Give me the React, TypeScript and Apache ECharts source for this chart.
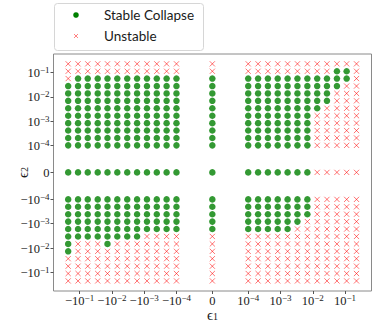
import React, { useEffect, useRef } from "react";
import * as echarts from "echarts";

// Grid values of epsilon_1 (left to right) and epsilon_2 (top to bottom)
const eps1Values = [
  -0.226, -0.112, -0.056, -0.0275, -0.0137, -0.0068, -0.00335, -0.00166, -0.00082, -0.000407, -0.000202, -0.0001,
  0,
  0.0001, 0.000202, 0.000407, 0.00082, 0.00166, 0.00335, 0.0068, 0.0137, 0.0275, 0.056, 0.112, 0.226,
];
const eps2Values = [
  0.226, 0.112, 0.056, 0.0275, 0.0137, 0.0068, 0.00335, 0.00166, 0.00082, 0.000407, 0.000202, 0.0001,
  0,
  -0.0001, -0.000202, -0.000407, -0.00082, -0.00166, -0.00335, -0.0068, -0.0137, -0.0275, -0.056, -0.112, -0.226,
];
// o = stable collapse, x = unstable ; rows follow eps2Values, columns follow eps1Values
const stabilityRows = [
  "xxxxxxxxxxxx" + "x" + "xxxxxxxxxxxx",
  "xxxxxxxxxxxx" + "x" + "xxxxxxxxxoox",
  "xooooooooooo" + "o" + "ooooooooooox",
  "oooooooooooo" + "o" + "ooooooooooxx",
  "oooooooooooo" + "o" + "oooooooooxxx",
  "oooooooooooo" + "o" + "oooooooooxxx",
  "oooooooooooo" + "o" + "ooooooooxxxx",
  "oooooooooooo" + "o" + "oooooooxxxxx",
  "oooooooooooo" + "o" + "oooooooxxxxx",
  "oooooooooooo" + "o" + "oooooooxxxxx",
  "oooooooooooo" + "o" + "oooooooxxxxx",
  "oooooooooooo" + "o" + "oooooooxxxxx",
  "oooooooooooo" + "o" + "oooooooxxxxx",
  "oooooooooooo" + "o" + "oooooooxxxxx",
  "oooooooooooo" + "o" + "oooooooxxxxx",
  "oooooooooooo" + "o" + "oooooooxxxxx",
  "oooooooooooo" + "o" + "ooooooxxxxxx",
  "oooooooooooo" + "o" + "oooooxxxxxxx",
  "ooooooooxxxx" + "x" + "xxxxxxxxxxxx",
  "oxxxoxxxxxxx" + "x" + "xxxxxxxxxxxx",
  "oxxxxxxxxxxx" + "x" + "xxxxxxxxxxxx",
  "xxxxxxxxxxxx" + "x" + "xxxxxxxxxxxx",
  "xxxxxxxxxxxx" + "x" + "xxxxxxxxxxxx",
  "xxxxxxxxxxxx" + "x" + "xxxxxxxxxxxx",
  "xxxxxxxxxxxx" + "x" + "xxxxxxxxxxxx",
];
const tickValues = [-0.1, -0.01, -0.001, -0.0001, 0, 0.0001, 0.001, 0.01, 0.1];
const seriesNames = ["Stable Collapse", "Unstable"];

// symlog transform (linthresh 1e-4, linscale 1, base 10 as in matplotlib)
const LINTHRESH = 1e-4;
const LINSCALE = 1 / (1 - 1 / 10);
const symlog = (v: number) => {
  const a = Math.abs(v);
  if (a <= LINTHRESH) return (v / LINTHRESH) * LINSCALE;
  return Math.sign(v) * (LINSCALE + Math.log10(a / LINTHRESH));
};
const symlogInv = (t: number) => {
  const a = Math.abs(t);
  if (a <= LINSCALE) return (t / LINSCALE) * LINTHRESH;
  return Math.sign(t) * LINTHRESH * Math.pow(10, a - LINSCALE);
};

const SERIF = "'Liberation Serif', 'DejaVu Serif', serif";
const SANS = "Lato, 'Open Sans', sans-serif";
const RED = "rgba(255,0,0,0.55)";
const GREEN = "#008000";
const INK = "#1a1a1a";

const tickLabel = (t: number) => {
  const v = symlogInv(t);
  if (Math.abs(v) < 1e-9) return "{n|0}";
  const e = Math.round(Math.log10(Math.abs(v)));
  return `{n|${v < 0 ? "\u2212" : ""}10}{s|\u2212${-e}}`;
};
const labelRich = {
  n: { fontSize: 12.5, fontFamily: SERIF, color: INK, lineHeight: 14, verticalAlign: "bottom" },
  s: { fontSize: 9, fontFamily: SERIF, color: INK, lineHeight: 9, verticalAlign: "top" },
};
const nameRich = {
  e: { fontSize: 15, fontFamily: SERIF, color: INK, lineHeight: 14, verticalAlign: "middle" },
  s: { fontSize: 10, fontFamily: SERIF, color: INK, lineHeight: 10, verticalAlign: "bottom" },
};

const crossItem = (params: any, api: any) => {
  const p = api.coord([api.value(0), api.value(1)]);
  const h = 2.6;
  return {
    type: "group",
    children: [
      { type: "line", shape: { x1: p[0] - h, y1: p[1] - h, x2: p[0] + h, y2: p[1] + h }, style: { stroke: RED, lineWidth: 1 } },
      { type: "line", shape: { x1: p[0] - h, y1: p[1] + h, x2: p[0] + h, y2: p[1] - h }, style: { stroke: RED, lineWidth: 1 } },
    ],
  };
};

export default function App() {
  const ref = useRef<HTMLDivElement>(null);
  useEffect(() => {
    if (!ref.current) return;
    const chart = echarts.init(ref.current, undefined, { renderer: "svg" });
    const stable: number[][] = [];
    const unstable: number[][] = [];
    stabilityRows.forEach((row, i) => {
      row.split("").forEach((c, j) => {
        const p = [symlog(eps1Values[j]), symlog(eps2Values[i])];
        (c === "o" ? stable : unstable).push(p);
      });
    });
    const ticks = tickValues.map(symlog);
    chart.setOption({
      animation: false,
      grid: {
        left: 53.5, top: 54, width: 318, height: 237,
        outerBoundsMode: "none", containLabel: false,
        show: true, borderColor: "#8a8a8a", borderWidth: 1, backgroundColor: "transparent",
      },
      xAxis: {
        type: "value", min: -4.92, max: 4.93,
        axisLine: { show: false, onZero: false }, splitLine: { show: false },
        axisTick: { show: true, customValues: ticks, length: 3, lineStyle: { color: "#555" } },
        axisLabel: { customValues: ticks, formatter: tickLabel, rich: labelRich, margin: 2.5, color: INK },
        name: "{e|\u03f5}{s|1}", nameLocation: "middle", nameGap: 16.5, nameMoveOverlap: false,
        nameTextStyle: { rich: nameRich, color: INK },
      },
      yAxis: {
        type: "value", min: -4.88, max: 4.87,
        axisLine: { show: false, onZero: false }, splitLine: { show: false },
        axisTick: { show: true, customValues: ticks, length: 3, lineStyle: { color: "#555" } },
        axisLabel: { customValues: ticks, formatter: tickLabel, rich: labelRich, margin: 4, color: INK },
        name: "{e|\u03f5}{s|2}", nameLocation: "middle", nameGap: 24, nameRotate: 90, nameMoveOverlap: false,
        nameTextStyle: { rich: nameRich, color: INK },
      },
      series: [
        {
          name: seriesNames[1], type: "custom", data: unstable,
          renderItem: crossItem,
        },
        {
          name: seriesNames[0], type: "scatter", data: stable,
          symbol: "circle", symbolSize: 6.5,
          itemStyle: { color: GREEN },
        },
      ],
      graphic: [
        {
          type: "rect", left: 54, top: 3, z: 100,
          shape: { width: 149, height: 47, r: 3 },
          style: { fill: "#fff", stroke: "#d6d6d6", lineWidth: 1 },
        },
        { type: "circle", z: 101, shape: { cx: 76, cy: 15, r: 2.8 }, style: { fill: GREEN } },
        { type: "line", z: 101, shape: { x1: 74, y1: 34, x2: 78, y2: 38 }, style: { stroke: RED, lineWidth: 0.9 } },
        { type: "line", z: 101, shape: { x1: 78, y1: 34, x2: 74, y2: 38 }, style: { stroke: RED, lineWidth: 0.9 } },
        {
          type: "text", z: 101, x: 104, y: 15,
          style: { text: seriesNames[0], fill: INK, fontSize: 13.5, fontFamily: SANS, verticalAlign: "middle" },
        },
        {
          type: "text", z: 101, x: 104, y: 36,
          style: { text: seriesNames[1], fill: INK, fontSize: 13.5, fontFamily: SANS, verticalAlign: "middle" },
        },
      ],
    });
    return () => chart.dispose();
  }, []);
  return <div ref={ref} style={{ width: 374, height: 323, position: "absolute", left: 0, top: 0 }} />;
}
